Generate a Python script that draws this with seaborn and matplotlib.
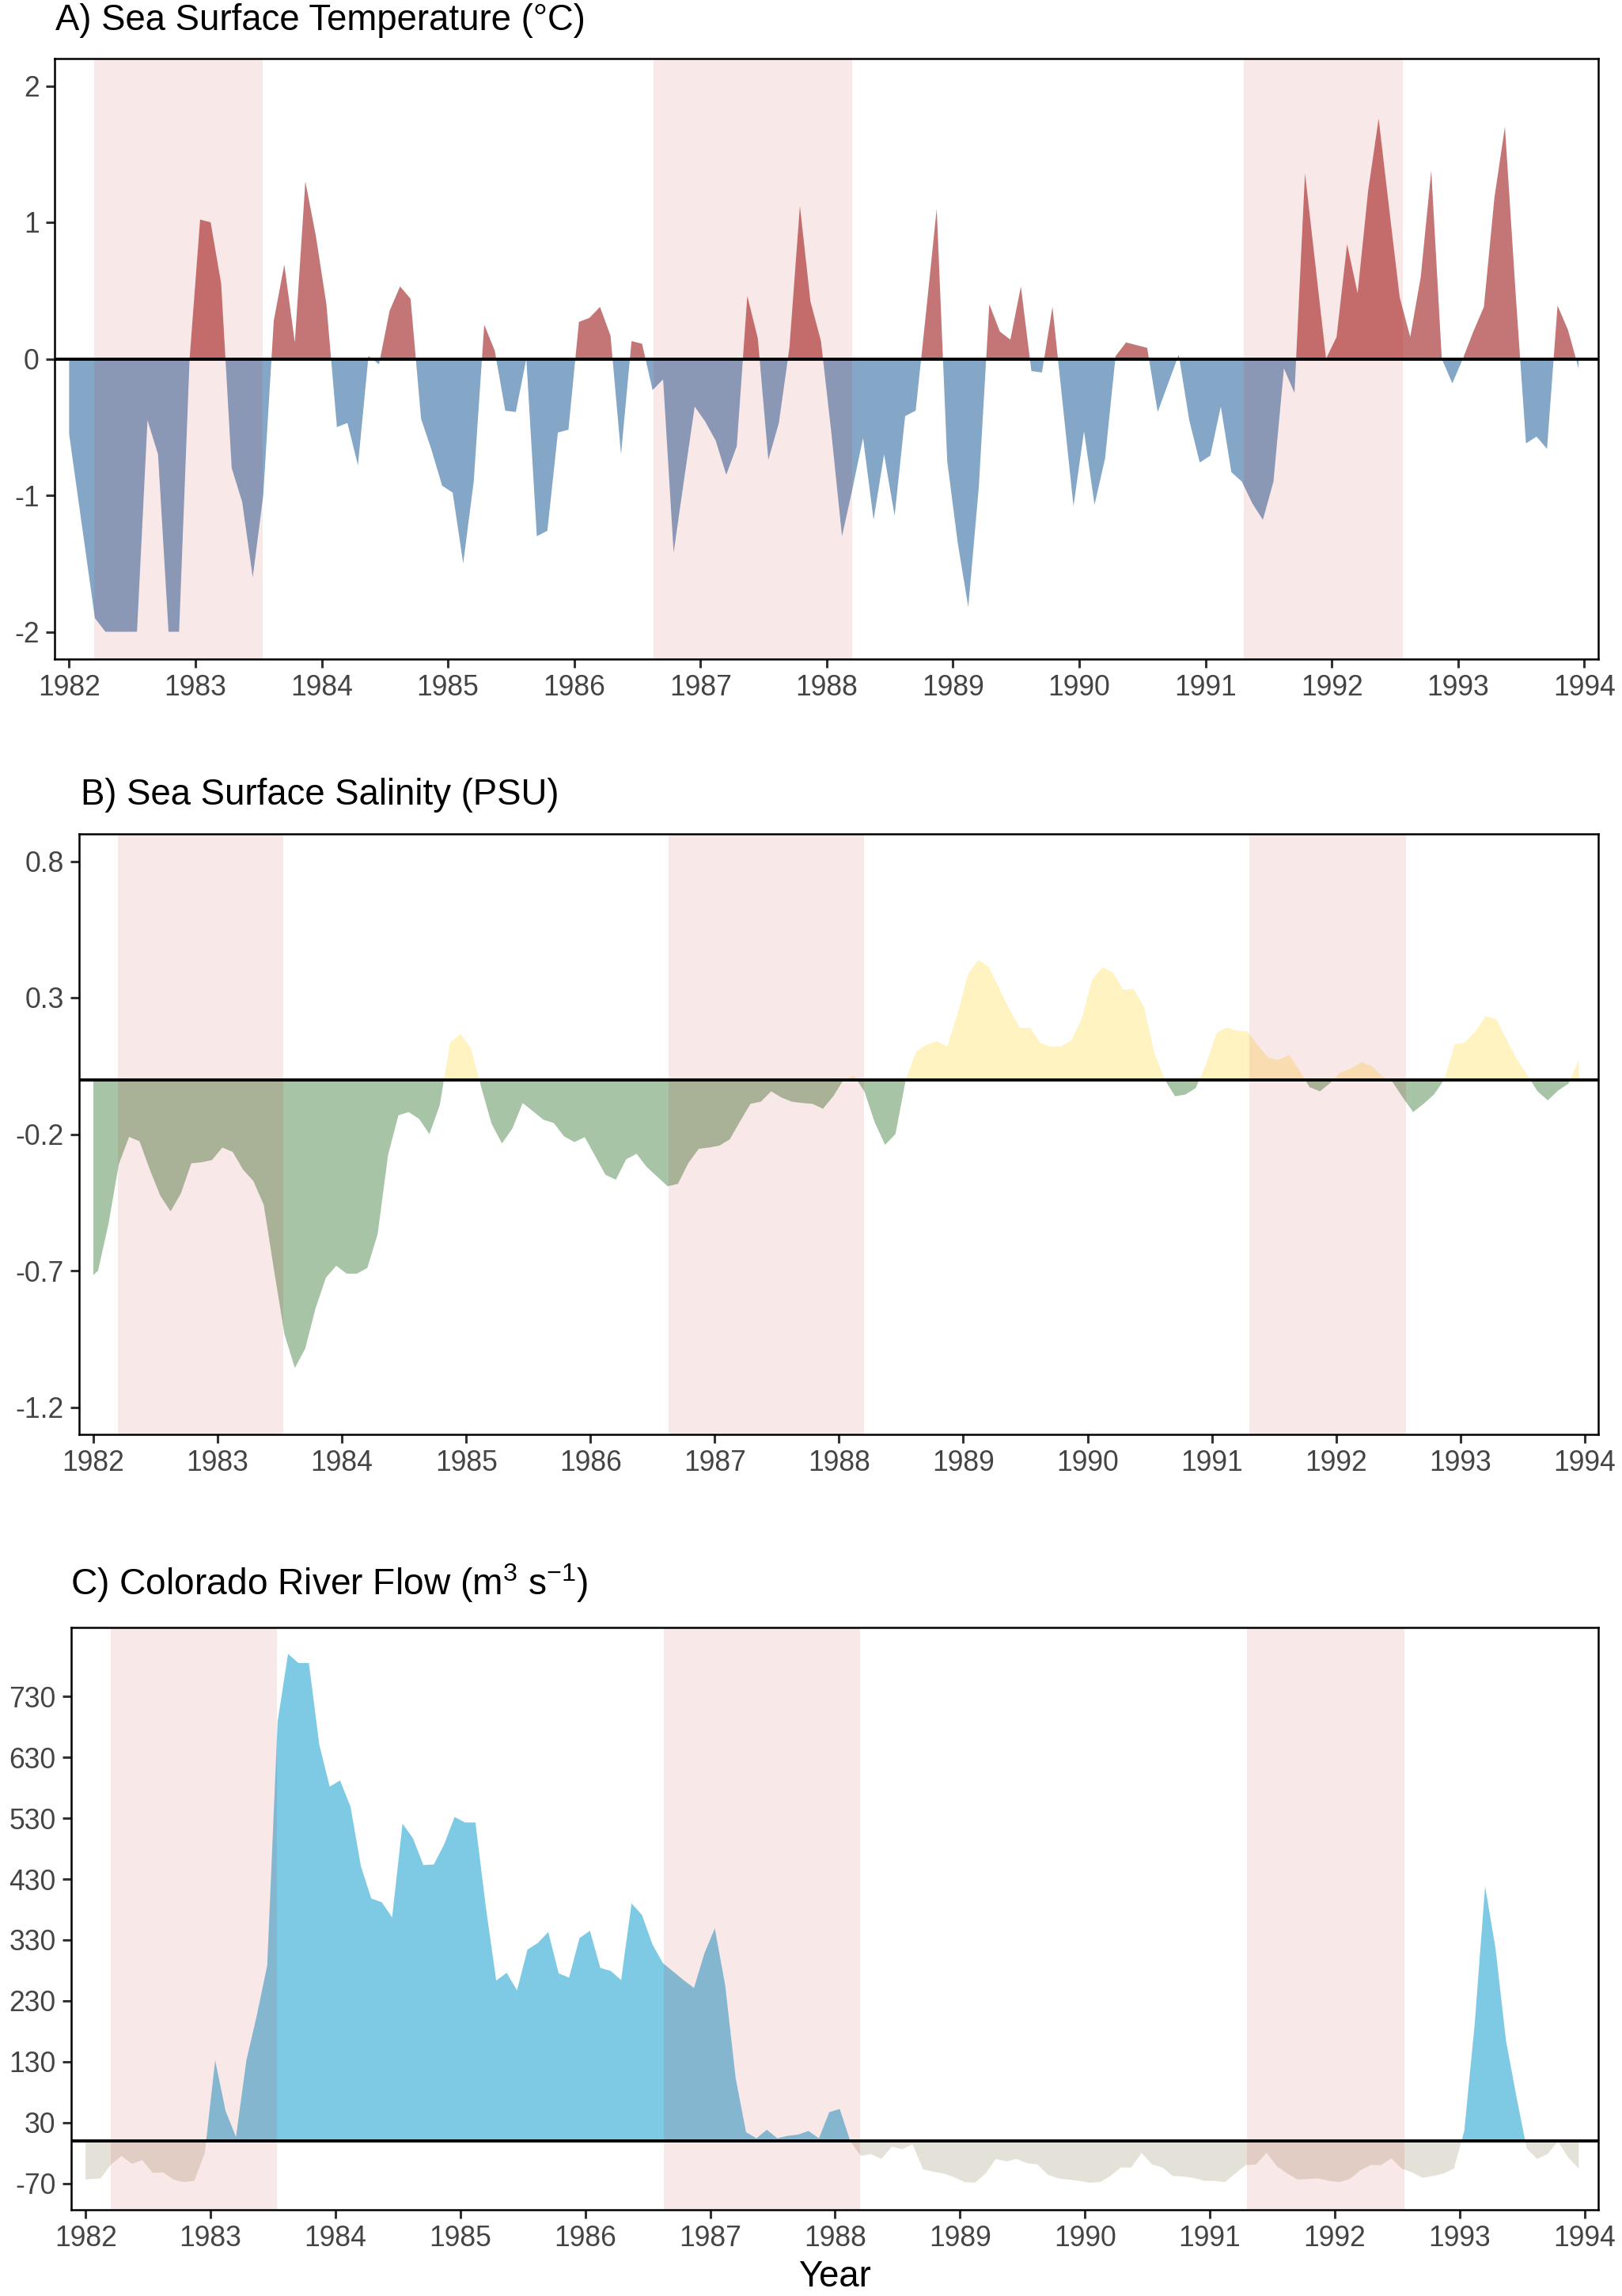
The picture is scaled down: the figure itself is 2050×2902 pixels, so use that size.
import numpy as np
import pandas as pd
import matplotlib
matplotlib.use("Agg")
import matplotlib.pyplot as plt
import seaborn as sns
from matplotlib import font_manager

sns.set_theme(style="ticks")
plt.rcParams['font.family'] = ['Liberation Sans', 'DejaVu Sans']
plt.rcParams['axes.unicode_minus'] = False

# time axis: first record on 1 Jan 1982, then one value per month
years = np.concatenate([[1982.0], 1982 + (np.arange(144) + 0.45) / 12])

# A) sea surface temperature anomaly (°C)
sst = [-0.55, -0.8, -1.35, -1.9, -2.0, -2.0, -2.0, -2.0, -0.45, -0.7,
       -2.0, -2.0, 0.0, 1.02, 1.0, 0.55, -0.8, -1.05, -1.6, -1.0,
       0.28, 0.69, 0.12, 1.3, 0.9, 0.4, -0.5, -0.47, -0.78, 0.02,
       -0.04, 0.35, 0.53, 0.44, -0.44, -0.67, -0.93, -0.98, -1.5, -0.9,
       0.25, 0.06, -0.38, -0.39, 0.0, -1.3, -1.26, -0.54, -0.52, 0.27,
       0.30, 0.38, 0.17, -0.7, 0.13, 0.11, -0.23, -0.15, -1.42, -0.88,
       -0.35, -0.46, -0.6, -0.85, -0.64, 0.46, 0.15, -0.74, -0.47, 0.08,
       1.12, 0.42, 0.13, -0.55, -1.3, -0.95, -0.58, -1.18, -0.7, -1.15,
       -0.42, -0.38, 0.35, 1.1, -0.75, -1.35, -1.82, -0.94, 0.4, 0.2,
       0.14, 0.53, -0.09, -0.1, 0.38, -0.35, -1.08, -0.53, -1.07, -0.73,
       0.02, 0.12, 0.1, 0.08, -0.39, -0.18, 0.03, -0.45, -0.76, -0.71,
       -0.35, -0.83, -0.9, -1.06, -1.18, -0.9, -0.07, -0.25, 1.36, 0.68,
       0.0, 0.16, 0.84, 0.48, 1.23, 1.76, 1.1, 0.45, 0.16, 0.6,
       1.38, 0.0, -0.18, 0.0, 0.2, 0.38, 1.18, 1.7, 0.5, -0.62,
       -0.57, -0.66, 0.39, 0.21, -0.07]

# B) sea surface salinity anomaly (PSU)
sss = [-0.716, -0.70, -0.53, -0.31, -0.21, -0.226, -0.33, -0.425, -0.483, -0.417,
       -0.307, -0.303, -0.295, -0.249, -0.265, -0.33, -0.372, -0.459, -0.70, -0.933,
       -1.057, -0.986, -0.838, -0.726, -0.682, -0.711, -0.711, -0.69, -0.566, -0.277,
       -0.131, -0.119, -0.144, -0.20, -0.093, 0.136, 0.167, 0.115, -0.028, -0.162,
       -0.234, -0.18, -0.086, -0.116, -0.147, -0.159, -0.208, -0.229, -0.211, -0.28,
       -0.349, -0.367, -0.292, -0.272, -0.321, -0.356, -0.391, -0.382, -0.306, -0.254,
       -0.249, -0.242, -0.219, -0.153, -0.089, -0.081, -0.043, -0.066, -0.081, -0.086,
       -0.089, -0.107, -0.061, 0.0, 0.014, -0.043, -0.157, -0.239, -0.2, 0.0,
       0.102, 0.128, 0.141, 0.121, 0.24, 0.385, 0.439, 0.413, 0.336, 0.258,
       0.19, 0.19, 0.133, 0.121, 0.122, 0.144, 0.225, 0.367, 0.411, 0.393,
       0.329, 0.332, 0.266, 0.098, 0.0, -0.061, -0.055, -0.031, 0.057, 0.171,
       0.19, 0.179, 0.176, 0.125, 0.08, 0.072, 0.09, 0.034, -0.028, -0.043,
       -0.012, 0.026, 0.041, 0.064, 0.049, 0.011, -0.009, -0.066, -0.119, -0.089,
       -0.055, 0.0, 0.128, 0.136, 0.176, 0.232, 0.222, 0.148, 0.075, 0.018,
       -0.043, -0.076, -0.04, -0.015, 0.072]

# C) Colorado River flow anomaly (m3 s-1)
flow = [-64, -63, -62, -39, -25, -38, -32, -53, -52, -64,
        -68, -66, -20, 132, 49, 6, 132, 206, 288, 689,
        800, 785, 785, 651, 582, 592, 549, 451, 398, 392,
        367, 521, 497, 453, 454, 487, 532, 523, 523, 384,
        263, 276, 247, 314, 325, 343, 275, 268, 333, 345,
        284, 279, 264, 390, 371, 323, 292, 278, 264, 251,
        308, 349, 255, 103, 14, 4, 18, 4, 8, 10,
        16, 4, 47, 52, 0, -25, -22, -30, -10, -14,
        -6, -47, -51, -54, -60, -68, -69, -54, -30, -34,
        -30, -37, -39, -56, -62, -64, -66, -69, -68, -58,
        -44, -44, -20, -39, -44, -58, -59, -61, -66, -66,
        -68, -54, -40, -39, -20, -42, -54, -64, -63, -62,
        -66, -68, -63, -49, -40, -40, -29, -46, -52, -61,
        -58, -54, -46, 16, 192, 418, 316, 165, 73, -13,
        -30, -22, -1, -28, -46]

# El Nino periods (shaded)
enso_start = [1982.2, 1986.63, 1991.3]
enso_end = [1983.53, 1988.2, 1992.56]

year_ticks = list(range(1982, 1995))
sst_ticks = [-2, -1, 0, 1, 2]
sst_labels = ['-2', '-1', '0', '1', '2']
sss_ticks = [-1.2, -0.7, -0.2, 0.3, 0.8]
sss_labels = ['-1.2', '-0.7', '-0.2', '0.3', '0.8']
flow_ticks = [-70, 30, 130, 230, 330, 430, 530, 630, 730]
flow_labels = [str(v) for v in flow_ticks]

df = pd.DataFrame({'year': years, 'sst': sst, 'sss': sss, 'flow': flow})

W, H = 2050, 2902
fig = plt.figure(figsize=(W / 200, H / 200), dpi=200)


def box(l, t, r, b):
    return [l / W, 1 - b / H, (r - l) / W, (b - t) / H]


def panel(rect, col, pos_col, neg_col, ylim, yticks, ylabels):
    ax = fig.add_axes(rect)
    sns.lineplot(data=df, x='year', y=col, ax=ax, lw=0, legend=False)
    y = df[col].values
    ax.fill_between(df['year'], y, 0, where=y >= 0, interpolate=True,
                    color=pos_col, lw=0)
    ax.fill_between(df['year'], y, 0, where=y <= 0, interpolate=True,
                    color=neg_col, lw=0)
    for s, e in zip(enso_start, enso_end):
        ax.axvspan(s, e, color=(0.78, 0, 0), alpha=0.09, lw=0)
    ax.axhline(0, color='black', lw=1.4)
    ax.set_xlim(1981.885, 1994.11)
    ax.set_ylim(*ylim)
    ax.set_xticks(year_ticks, [str(v) for v in year_ticks])
    ax.set_yticks(yticks, ylabels)
    ax.set_xlabel('')
    ax.set_ylabel('')
    for sp in ax.spines.values():
        sp.set_visible(True)
        sp.set_color('black')
        sp.set_linewidth(0.9)
    ax.tick_params(direction='out', length=4, width=1.1, color='#333333',
                   labelsize=12.8, labelcolor='#444444', pad=3)
    return ax


panel(box(69, 74, 2020, 833), 'sst', '#c47676', '#84a6c7',
      (-2.2, 2.2), sst_ticks, sst_labels)
panel(box(100, 1054, 2020, 1813), 'sss', '#fff3c2', '#a7c4a7',
      (-1.3, 0.9), sss_ticks, sss_labels)
panel(box(90, 2057, 2020, 2793), 'flow', '#7ecae4', '#e4e2d8',
      (-113.5, 843.5), flow_ticks, flow_labels)

fig.text(70 / W, 1 - 26 / H, 'A) Sea Surface Temperature (°C)',
         fontsize=16.4, color='black', va='center', ha='left')
fig.text(102 / W, 1 - 1005 / H, 'B) Sea Surface Salinity (PSU)',
         fontsize=16.4, color='black', va='center', ha='left')

names = {f.name for f in font_manager.fontManager.ttflist}
if 'Liberation Sans Narrow' in names:
    c_family, c_size = ['Liberation Sans Narrow', 'Liberation Sans'], 19
else:
    c_family, c_size = ['Liberation Sans', 'DejaVu Sans'], 16.6
plt.rcParams['mathtext.fontset'] = 'custom'
plt.rcParams['mathtext.rm'] = c_family[0]
fig.text(89 / W, 1 - 2001 / H, r'C) Colorado River Flow (m$^{3}$ s$^{-1}$)',
         fontsize=c_size, family=c_family, color='black', va='center', ha='left')

fig.text(1055 / W, 1 - 2878 / H, 'Year', fontsize=16.4, color='black',
         va='center', ha='center')

fig.savefig('out.png', dpi=200)
